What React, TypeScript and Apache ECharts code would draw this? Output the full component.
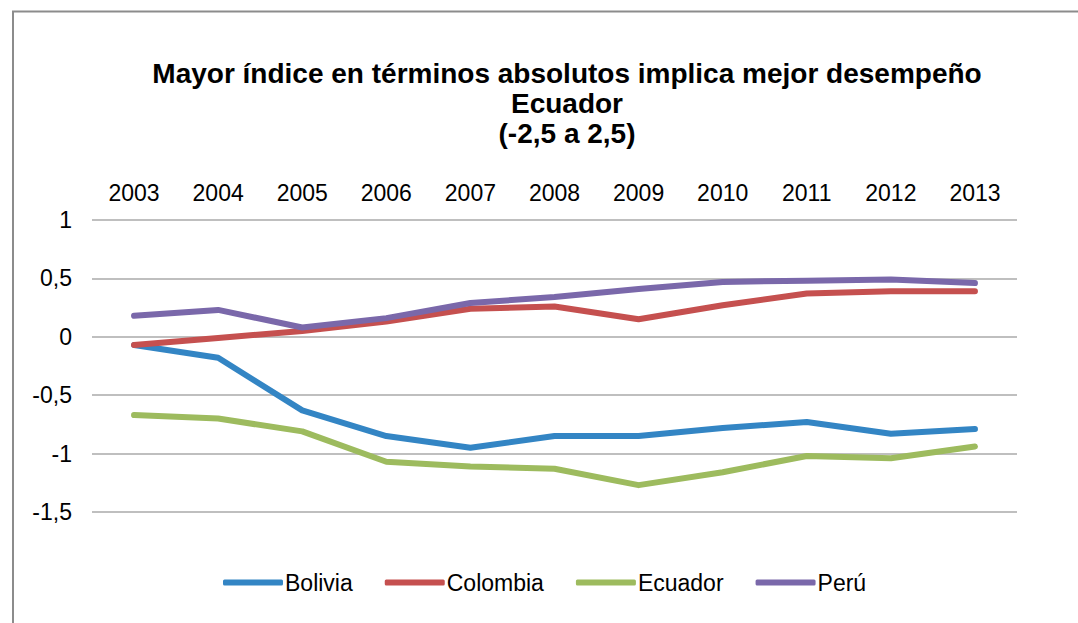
import React, { useEffect, useRef } from "react";
import * as echarts from "echarts";

const years = ["2003", "2004", "2005", "2006", "2007", "2008", "2009", "2010", "2011", "2012", "2013"];
const bolivia = [-0.07, -0.18, -0.63, -0.85, -0.95, -0.85, -0.85, -0.78, -0.73, -0.83, -0.79];
const colombia = [-0.07, -0.01, 0.05, 0.13, 0.24, 0.26, 0.15, 0.27, 0.37, 0.39, 0.39];
const ecuador = [-0.67, -0.70, -0.81, -1.07, -1.11, -1.13, -1.27, -1.16, -1.02, -1.04, -0.94];
const peru = [0.18, 0.23, 0.08, 0.16, 0.29, 0.34, 0.41, 0.47, 0.48, 0.49, 0.46];

const seriesNames = ["Bolivia", "Colombia", "Ecuador", "Perú"];
const seriesColors = ["#3385C4", "#C5504F", "#9DBB5E", "#7A68AA"];
const seriesData = [bolivia, colombia, ecuador, peru];

const font = "Liberation Sans, Arial, sans-serif";

export default function App() {
  const ref = useRef<HTMLDivElement>(null);
  useEffect(() => {
    if (!ref.current) return;
    const chart = echarts.init(ref.current, null, { renderer: "svg" });
    chart.setOption({
      animation: false,
      backgroundColor: "#ffffff",
      textStyle: { fontFamily: font },
      graphic: [
        {
          type: "polyline",
          shape: { points: [[13, 700], [13, 11.5], [1100, 11.5]] },
          style: { stroke: "#8c8c8c", lineWidth: 2, fill: "none" },
          silent: true,
        },
      ],
      title: {
        text: "Mayor índice en términos absolutos implica mejor desempeño\nEcuador\n(-2,5 a 2,5)",
        left: 562,
        textAlign: "center",
        top: 53,
        textStyle: {
          fontFamily: font,
          fontWeight: "bold",
          fontSize: 28,
          lineHeight: 30,
          color: "#000000",
        },
      },
      legend: {
        data: seriesNames,
        left: 218,
        top: 566,
        itemWidth: 60,
        itemHeight: 6,
        itemGap: 32,
        icon: "roundRect",
        textStyle: { fontFamily: font, fontSize: 23, color: "#000000", padding: [0, 0, 0, -3] },
      },
      grid: { left: 92, right: 61, top: 220, bottom: 111 },
      xAxis: {
        type: "category",
        data: years,
        position: "top",
        boundaryGap: true,
        axisLine: { show: false },
        axisTick: { show: false },
        axisLabel: { fontFamily: font, fontSize: 23, color: "#000000", margin: 16 },
      },
      yAxis: {
        type: "value",
        min: -1.5,
        max: 1,
        interval: 0.5,
        axisLine: { show: false },
        axisTick: { show: false },
        splitLine: { lineStyle: { color: "#bfbfbf", width: 2 } },
        axisLabel: {
          fontFamily: font,
          fontSize: 23,
          color: "#000000",
          margin: 20,
          formatter: (v: number) => String(v).replace(".", ","),
        },
      },
      series: seriesNames.map((name, i) => ({
        name,
        type: "line",
        data: seriesData[i],
        showSymbol: false,
        symbol: "none",
        lineStyle: { color: seriesColors[i], width: 6, cap: "round", join: "round" },
        itemStyle: { color: seriesColors[i] },
      })),
    });
    return () => chart.dispose();
  }, []);
  return <div ref={ref} style={{ width: 1078, height: 623, position: "absolute", left: 0, top: 0 }} />;
}
